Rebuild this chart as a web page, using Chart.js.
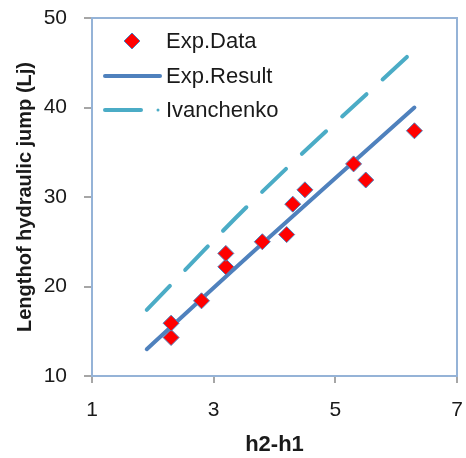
<!DOCTYPE html>
<html>
<head>
<meta charset="utf-8">
<script src="https://cdn.jsdelivr.net/npm/chart.js@4.4.1/dist/chart.umd.min.js"></script>
<style>
  html, body { margin: 0; padding: 0; background: #fff; }
  #wrap { width: 466px; height: 458px; }
</style>
</head>
<body>
<div id="wrap"><canvas id="chart" width="466" height="458"></canvas></div>
<script>
// measured points (h2-h1, Lj)
const expDataX = [2.3, 2.3, 2.8, 3.2, 3.2, 3.8, 4.2, 4.3, 4.5, 5.3, 5.5, 6.3];
const expDataY = [14.3, 15.9, 18.4, 22.2, 23.7, 25.0, 25.8, 29.2, 30.8, 33.7, 31.9, 37.4];

// fitted line
const resultX = [1.9, 3.8, 6.3];
const resultY = [13.0, 24.8, 40.0];

// Ivanchenko formula
const ivanX = [1.9, 3.8, 6.2];
const ivanY = [17.4, 30.6, 45.8];

const xTicks = [1, 3, 5, 7];
const yTicks = [10, 20, 30, 40, 50];

const FONT = "'Liberation Sans', Arial, sans-serif";
const BLUE = '#4f81bd';
const AQUA = '#4bacc6';
const AXIS_GRAY = '#a6a6a6';

const toPoints = (xs, ys) => xs.map((x, i) => ({ x, y: ys[i] }));

// light blue plot frame, drawn under the datasets
const plotFrame = {
  id: 'plotFrame',
  beforeDatasetsDraw(chart) {
    const { ctx, chartArea: a } = chart;
    ctx.save();
    ctx.strokeStyle = '#95b3d7';
    ctx.lineWidth = 2;
    ctx.strokeRect(a.left, a.top, a.right - a.left, a.bottom - a.top);
    ctx.restore();
  }
};

// legend box in the top-left corner of the plot
const insideLegend = {
  id: 'insideLegend',
  afterDraw(chart) {
    const { ctx } = chart;
    const rows = [41, 76, 110];
    const textX = 166;
    ctx.save();
    ctx.font = `22px ${FONT}`;
    ctx.textBaseline = 'middle';
    chart.data.datasets.forEach((ds, i) => {
      const y = rows[i];
      if (ds.showLine === false) {
        ctx.beginPath();
        ctx.moveTo(132, y - 8);
        ctx.lineTo(140, y);
        ctx.lineTo(132, y + 8);
        ctx.lineTo(124, y);
        ctx.closePath();
        ctx.fillStyle = ds.pointBackgroundColor;
        ctx.fill();
        ctx.strokeStyle = ds.pointBorderColor;
        ctx.lineWidth = 1;
        ctx.stroke();
      } else {
        ctx.strokeStyle = ds.borderColor;
        ctx.lineWidth = ds.borderWidth;
        ctx.lineCap = 'round';
        ctx.beginPath();
        if (ds.borderDash && ds.borderDash.length) {
          ctx.moveTo(105, y);
          ctx.lineTo(141, y);
          ctx.stroke();
          ctx.beginPath();
          ctx.arc(158, y, 1.5, 0, Math.PI * 2);
          ctx.fillStyle = ds.borderColor;
          ctx.fill();
        } else {
          ctx.moveTo(105, y);
          ctx.lineTo(160, y);
          ctx.stroke();
        }
      }
      ctx.fillStyle = '#1a1a1a';
      ctx.fillText(ds.label, textX, y + 1);
    });
    ctx.restore();
  }
};

new Chart(document.getElementById('chart'), {
  type: 'scatter',
  data: {
    datasets: [
      {
        label: 'Exp.Data',
        data: toPoints(expDataX, expDataY),
        showLine: false,
        pointStyle: 'rectRot',
        pointRadius: 8,
        pointBackgroundColor: '#ff0000',
        pointBorderColor: BLUE,
        pointBorderWidth: 1,
        order: 0
      },
      {
        label: 'Exp.Result',
        data: toPoints(resultX, resultY),
        showLine: true,
        borderColor: BLUE,
        borderWidth: 4,
        borderCapStyle: 'round',
        pointRadius: 0,
        tension: 0.4,
        order: 1
      },
      {
        label: 'Ivanchenko',
        data: toPoints(ivanX, ivanY),
        showLine: true,
        borderColor: AQUA,
        borderWidth: 4,
        borderDash: [33, 22],
        borderCapStyle: 'round',
        pointRadius: 0,
        tension: 0.4,
        order: 2
      }
    ]
  },
  options: {
    responsive: false,
    animation: false,
    layout: { padding: { top: 18, right: 7, left: 0, bottom: 0 } },
    plugins: {
      legend: { display: false },
      tooltip: { enabled: false }
    },
    scales: {
      x: {
        type: 'linear',
        min: 1,
        max: 7,
        afterBuildTicks: (scale) => { scale.ticks = xTicks.map((v) => ({ value: v })); },
        afterFit: (scale) => {
          scale.height = 82;
          scale.paddingLeft = 0;
          scale.paddingRight = 0;
        },
        ticks: {
          color: '#1a1a1a',
          font: { family: FONT, size: 21 },
          padding: 15,
          maxRotation: 0
        },
        grid: {
          drawOnChartArea: false,
          tickLength: 7,
          color: AXIS_GRAY,
          lineWidth: 2
        },
        border: { color: '#95b3d7', width: 2 },
        title: {
          display: true,
          text: 'h2-h1',
          color: '#1a1a1a',
          font: { family: FONT, size: 22, weight: 'bold' },
          padding: { top: 0, bottom: 0 }
        }
      },
      y: {
        type: 'linear',
        min: 10,
        max: 50,
        afterBuildTicks: (scale) => { scale.ticks = yTicks.map((v) => ({ value: v })); },
        afterFit: (scale) => {
          scale.width = 92;
          scale.paddingTop = 0;
          scale.paddingBottom = 0;
        },
        ticks: {
          color: '#1a1a1a',
          font: { family: FONT, size: 21 },
          padding: 17
        },
        grid: {
          drawOnChartArea: false,
          tickLength: 8,
          color: AXIS_GRAY,
          lineWidth: 2
        },
        border: { color: AXIS_GRAY, width: 2 },
        title: {
          display: true,
          text: 'Lengthof hydraulic jump (Lj)',
          color: '#1a1a1a',
          font: { family: FONT, size: 20, weight: 'bold' },
          padding: { top: 13, bottom: 0 }
        }
      }
    }
  },
  plugins: [plotFrame, insideLegend]
});
</script>
</body>
</html>
